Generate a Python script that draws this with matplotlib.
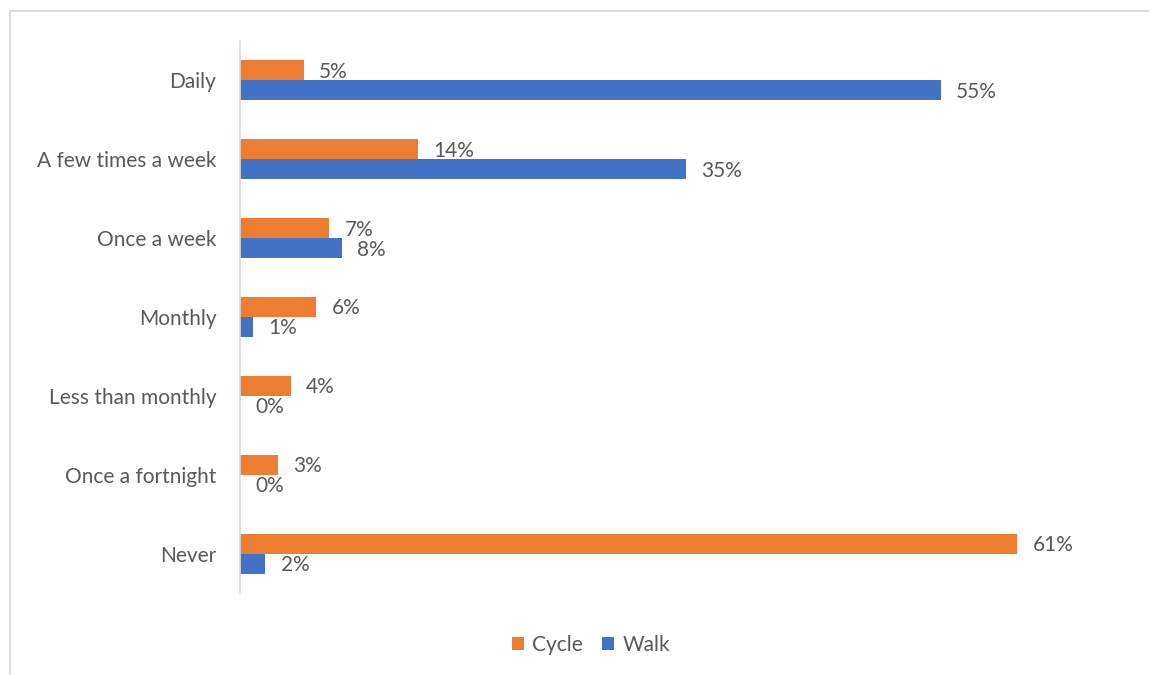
import matplotlib.pyplot as plt
from matplotlib.patches import Rectangle
import numpy as np

plt.rcParams["font.family"] = ["Lato", "DejaVu Sans"]

# ---Data----
categories = ["Daily", "A few times a week", "Once a week", "Monthly",
              "Less than monthly", "Once a fortnight", "Never"]
cycle = [5, 14, 7, 6, 4, 3, 61]
walk = [55, 35, 8, 1, 0, 0, 2]
# ---Data----

ORANGE = "#ED7D31"
BLUE = "#4472C4"
TEXT = "#595959"
FS = 15


def main() -> None:
    fig = plt.figure(figsize=(11.49, 6.75), dpi=100)
    W, H = 1149, 675
    ax = fig.add_axes([240 / W, 1 - 593 / H, (1132 - 240) / W, (593 - 41) / H])

    # outer chart frame (light gray, runs off the right/bottom edge)
    fig.patches.append(Rectangle((10 / W, -0.05), 1.2, 1 - 11 / H + 0.05,
                                 transform=fig.transFigure, fill=False,
                                 edgecolor="#D9D9D9", linewidth=1.2))

    y = np.arange(len(categories))
    h = 0.254
    b1 = ax.barh(y - h / 2, cycle, height=h, color=ORANGE, label="Cycle")
    b2 = ax.barh(y + h / 2, walk, height=h, color=BLUE, label="Walk")

    for bars, vals in ((b1, cycle), (b2, walk)):
        for bar, v in zip(bars, vals):
            ax.annotate(f"{v}%", (v, bar.get_y() + bar.get_height() / 2),
                        xytext=(11, -1), textcoords="offset points",
                        ha="left", va="center", fontsize=FS, color=TEXT)

    ax.set_ylim(len(categories) - 0.5, -0.5)
    ax.set_xlim(0, 70)
    ax.set_yticks(y, categories)
    ax.set_xticks([])
    ax.tick_params(axis="y", length=0, pad=17, labelsize=FS, labelcolor=TEXT)
    for s in ("top", "right", "bottom"):
        ax.spines[s].set_visible(False)
    ax.spines["left"].set_color("#D9D9D9")
    ax.spines["left"].set_linewidth(1.2)

    fig.legend(handles=[b1, b2], labels=["Cycle", "Walk"], loc="center",
               bbox_to_anchor=(591 / W, 1 - 645 / H), ncol=2, frameon=False,
               fontsize=FS, labelcolor=TEXT, handlelength=0.6, handleheight=0.6,
               handletextpad=0.4, columnspacing=0.9)

    fig.savefig("out.png", dpi=100)


if __name__ == "__main__":
    main()
